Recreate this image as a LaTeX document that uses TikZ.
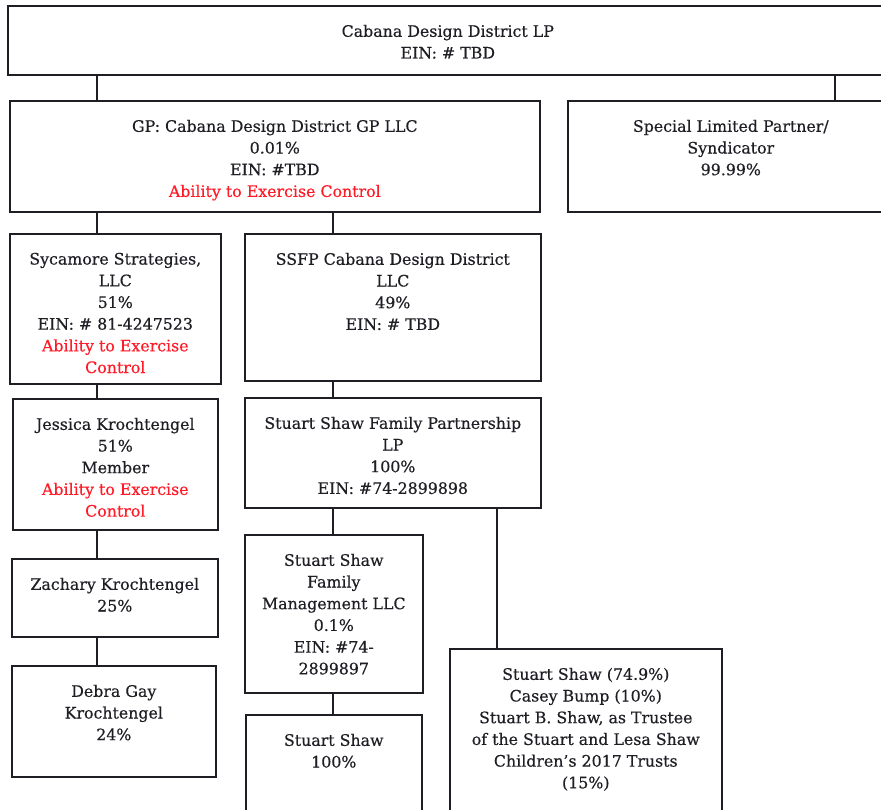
\documentclass[tikz,border=0pt]{standalone}
\usepackage{fontspec}
\setmainfont{DejaVu Serif}[BoldFont={DejaVu Serif}, BoldFeatures={FakeBold=0.4}]
\definecolor{ctrl}{RGB}{255,28,40}
\definecolor{ink}{RGB}{30,30,36}
\newcommand\ctl[1]{\textcolor{ctrl}{#1}}
\newcommand\orgbox[6]{%
  \node[orgbox, anchor=north west] (#1) at (#2pt,-#3pt)
  {\begin{minipage}[t][#5pt][t]{#4pt}\centering\bfseries\vspace*{19pt}#6\end{minipage}};}
\tikzset{
  orgbox/.style={draw=ink, line width=1.6pt, inner sep=0pt, text=ink, fill=white,
    font=\fontsize{15.8}{21.7}\selectfont},
  link/.style={draw=ink, line width=1.6pt}
}
\begin{document}
\begin{tikzpicture}
\useasboundingbox (0,0) rectangle (881pt,-810pt);
\clip (0,0) rectangle (881pt,-810pt);
\fill[white] (0,0) rectangle (881pt,-810pt);
\orgbox{top}{7}{5}{880}{69}{Cabana Design District LP\\EIN: \# TBD}
\orgbox{gp}{9}{100}{530}{111}{GP: Cabana Design District GP LLC\\0.01\%\\EIN: \#TBD\\\ctl{Ability to Exercise Control}}
\orgbox{spl}{567}{100}{326}{111}{Special Limited Partner/\\Syndicator\\99.99\%}
\orgbox{syc}{9}{233}{211}{150}{Sycamore Strategies,\\LLC\\51\%\\EIN: \# 81-4247523\\\ctl{Ability to Exercise}\\\ctl{Control}}
\orgbox{ssfp}{244}{233}{296}{147}{SSFP Cabana Design District\\LLC\\49\%\\EIN: \# TBD}
\orgbox{jes}{12}{398}{205}{131}{Jessica Krochtengel\\51\%\\Member\\\ctl{Ability to Exercise}\\\ctl{Control}}
\orgbox{ssfpl}{244}{397}{296}{110}{Stuart Shaw Family Partnership\\LP\\100\%\\EIN: \#74-2899898}
\orgbox{zac}{11}{558}{206}{78}{Zachary Krochtengel\\25\%}
\orgbox{deb}{11}{665}{204}{111}{Debra Gay\\Krochtengel\\24\%}
\orgbox{mgmt}{244}{534}{178}{158}{Stuart Shaw\\Family\\Management LLC\\0.1\%\\EIN: \#74-\\2899897}
\orgbox{ss}{245}{714}{176}{120}{Stuart Shaw\\100\%}
\orgbox{ssb}{449}{648}{272}{190}{Stuart Shaw (74.9\%)\\Casey Bump (10\%)\\Stuart B. Shaw, as Trustee\\of the Stuart and Lesa Shaw\\Children's 2017 Trusts\\(15\%)}
\coordinate (cA) at (97pt,0);
\coordinate (cB) at (333pt,0);
\coordinate (cC) at (497pt,0);
\coordinate (cD) at (835pt,0);
\draw[link] (top.south -| cA) -- (gp.north -| cA);
\draw[link] (top.south -| cD) -- (spl.north -| cD);
\draw[link] (gp.south -| cA) -- (syc.north -| cA);
\draw[link] (gp.south -| cB) -- (ssfp.north -| cB);
\draw[link] (syc.south -| cA) -- (jes.north -| cA);
\draw[link] (jes.south -| cA) -- (zac.north -| cA);
\draw[link] (zac.south -| cA) -- (deb.north -| cA);
\draw[link] (ssfp.south -| cB) -- (ssfpl.north -| cB);
\draw[link] (ssfpl.south -| cB) -- (mgmt.north -| cB);
\draw[link] (mgmt.south -| cB) -- (ss.north -| cB);
\draw[link] (ssfpl.south -| cC) -- (ssb.north -| cC);
\end{tikzpicture}
\end{document}
